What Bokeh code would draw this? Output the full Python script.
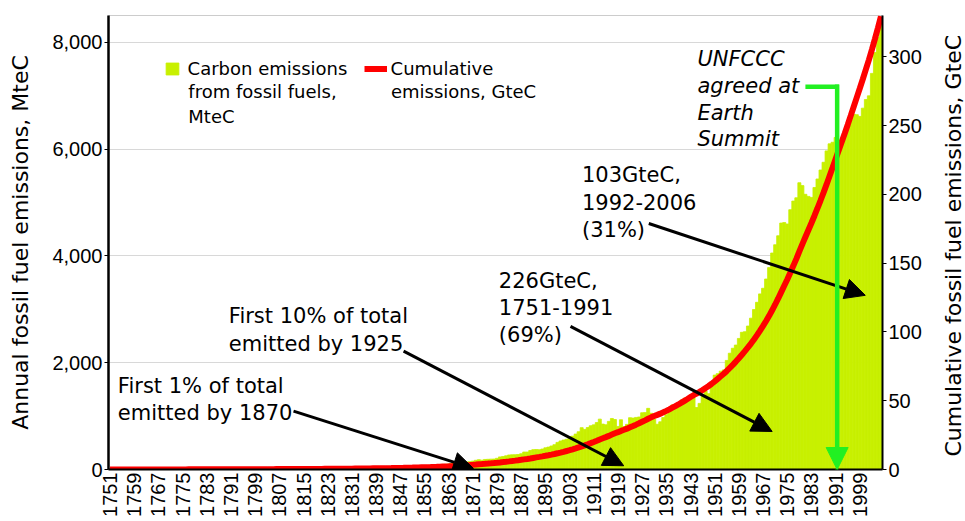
import math
import numpy as np
from bokeh.plotting import figure
from bokeh.models import (Range1d, LinearAxis, FixedTicker, NumeralTickFormatter,
                          Legend, LegendItem, Label, Arrow, NormalHead)
from bokeh.embed import file_html
from bokeh.resources import INLINE

# ---------------- data ----------------
years = list(range(1751, 2007))
annual_mtc = [
    3, 3, 3, 3, 3, 3, 3, 3, 3, 3,                      # 1751-1760
    3, 3, 3, 3, 3, 3, 4, 4, 4, 4,                      # 1761-1770
    4, 4, 4, 4, 4, 4, 4, 4, 4, 5,                      # 1771-1780
    5, 5, 5, 5, 5, 5, 5, 5, 5, 5,                      # 1781-1790
    6, 6, 6, 6, 6, 6, 7, 7, 7, 8,                      # 1791-1800
    8, 10, 9, 9, 9, 10, 10, 10, 10, 10,                # 1801-1810
    11, 11, 11, 11, 12, 13, 14, 14, 14, 14,            # 1811-1820
    14, 15, 16, 16, 17, 17, 18, 18, 18, 24,            # 1821-1830
    23, 23, 24, 24, 25, 29, 29, 30, 31, 33,            # 1831-1840
    34, 36, 37, 39, 43, 43, 46, 47, 50, 54,            # 1841-1850
    54, 57, 59, 69, 71, 76, 77, 78, 83, 91,            # 1851-1860
    95, 97, 104, 112, 119, 122, 130, 135, 142, 147,    # 1861-1870
    156, 173, 184, 174, 188, 191, 194, 196, 210, 236,  # 1871-1880
    243, 256, 272, 275, 277, 281, 295, 327, 327, 356,  # 1881-1890
    372, 374, 370, 383, 406, 419, 440, 465, 507, 534,  # 1891-1900
    552, 566, 617, 624, 663, 707, 784, 750, 785, 819,  # 1901-1910
    836, 879, 943, 850, 838, 901, 955, 936, 806, 932,  # 1911-1920
    803, 845, 970, 963, 975, 983, 1062, 1065, 1145, 1053,      # 1921-1930
    940, 847, 893, 973, 1027, 1130, 1209, 1142, 1192, 1299,    # 1931-1940
    1334, 1342, 1391, 1383, 1160, 1238, 1392, 1469, 1419, 1630,  # 1941-1950
    1767, 1795, 1841, 1865, 2042, 2177, 2270, 2330, 2454, 2569,  # 1951-1960
    2580, 2686, 2833, 2995, 3130, 3288, 3393, 3566, 3780, 4053,  # 1961-1970
    4208, 4376, 4614, 4623, 4596, 4864, 5026, 5087, 5369, 5315,  # 1971-1980
    5152, 5113, 5094, 5280, 5439, 5607, 5752, 5965, 6097, 6127,  # 1981-1990
    6217, 6164, 6162, 6266, 6398, 6542, 6651, 6643, 6610, 6765,  # 1991-2000
    6927, 6996, 7416, 7807, 8093, 8370,                          # 2001-2006
]
cumulative_gtc = list(np.cumsum(annual_mtc) / 1000.0)

x_ticks = list(range(1751, 2000, 8))
left_ticks = [0, 2000, 4000, 6000, 8000]
right_ticks = [0, 50, 100, 150, 200, 250, 300]

bar_label_lines = ["Carbon emissions", "from fossil fuels,\nMteC"]
line_label_lines = ["Cumulative", "emissions, GteC"]
y_title_left = "Annual fossil fuel emissions, MteC"
y_title_right = "Cumulative fossil fuel emissions, GteC"

# annotations: (text, x-year, y-MtC top)
notes = [
    ("First 1% of total\nemitted by 1870", 1753.6, 1795),
    ("First 10% of total\nemitted by 1925", 1790.3, 3094),
    ("226GteC,\n1751-1991\n(69%)", 1879.6, 3763),
    ("103GteC,\n1992-2006\n(31%)", 1907.1, 5731),
]
# arrows: (x_start, y_start, x_end, y_end) in year / MtC
arrows = [
    (1811.7, 1093, 1871.2, 20),
    (1848.1, 2217, 1920.9, 70),
    (1903.3, 2680, 1970.0, 712),
    (1929.2, 4605, 2000.8, 3261),
]
summit_text = "UNFCCC\nagreed at\nEarth\nSummit"
summit_text_pos = (1945.3, 7905)
summit_year = 1991.5
summit_hook = (1981.0, 7166)

TICK_FONT = "Liberation Sans"
FONT = "DejaVu Sans"
BAR_COLOR = "#c8f000"
LINE_COLOR = "#ff0000"
GREEN = "#22f022"

# ---------------- figure ----------------
p = figure(width=965, height=521, output_backend="svg", toolbar_location=None,
           x_range=Range1d(1750.5, 2006.5), y_range=Range1d(0, 8500),
           min_border_left=108, min_border_right=83, min_border_top=15,
           min_border_bottom=52)
p.extra_y_ranges = {"cum": Range1d(0, 330)}
p.background_fill_color = "white"
p.border_fill_color = "white"
p.outline_line_color = "#cccccc"

r_bar = p.vbar(x=years, top=annual_mtc, width=1.0, fill_color=BAR_COLOR,
               line_color=BAR_COLOR, line_width=0.8)
r_line = p.line(x=years, y=cumulative_gtc, y_range_name="cum",
                line_color=LINE_COLOR, line_width=6)

# grids
p.xgrid.visible = False
p.ygrid.grid_line_color = "#d8d8d8"
p.ygrid.grid_line_width = 1
p.ygrid.ticker = FixedTicker(ticks=left_ticks)

# x axis
xa = p.xaxis[0]
xa.ticker = FixedTicker(ticks=x_ticks)
xa.major_label_orientation = math.pi / 2
xa.major_label_text_font = TICK_FONT
xa.major_label_text_font_size = "20px"
xa.major_label_text_color = "black"
xa.major_tick_out = 0
xa.major_tick_in = 0
xa.minor_tick_line_color = None
xa.major_label_standoff = 3
xa.axis_line_color = "black"
xa.axis_line_width = 2

# left axis
ya = p.yaxis[0]
ya.ticker = FixedTicker(ticks=left_ticks)
ya.formatter = NumeralTickFormatter(format="0,0")
ya.major_label_text_font = TICK_FONT
ya.major_label_text_font_size = "20px"
ya.major_label_text_color = "black"
ya.major_tick_out = 4
ya.major_tick_in = 0
ya.minor_tick_line_color = None
ya.major_label_standoff = 2
ya.axis_line_color = "black"
ya.axis_line_width = 2.5
ya.axis_label = y_title_left
ya.axis_label_text_font = FONT
ya.axis_label_text_font_size = "22px"
ya.axis_label_text_font_style = "normal"
ya.axis_label_text_color = "black"
ya.axis_label_standoff = 16

# right axis
ra = LinearAxis(y_range_name="cum", ticker=FixedTicker(ticks=right_ticks))
ra.major_label_text_font = TICK_FONT
ra.major_label_text_font_size = "20px"
ra.major_label_text_color = "black"
ra.major_tick_out = 4
ra.major_tick_in = 0
ra.minor_tick_line_color = None
ra.major_label_standoff = 2
ra.axis_line_color = "black"
ra.axis_line_width = 2
p.add_layout(ra, "right")

# right axis title (reads bottom-to-top), in the right side panel
p.add_layout(Label(x=2030.0, y=4190, text=y_title_right, angle=math.pi / 2,
                   text_font=FONT, text_font_size="22px", text_color="black",
                   text_align="center", text_baseline="middle"), "right")

# legends (glyph aligned with the first line of each label)
def make_legend(item, loc, gw, gh, standoff):
    return Legend(items=[item], location=loc, orientation="vertical",
                  glyph_width=gw, glyph_height=gh, label_standoff=standoff,
                  label_height=22,
                  label_text_font=FONT, label_text_font_size="18px",
                  label_text_color="black",
                  padding=0, margin=0, spacing=0,
                  background_fill_alpha=0, border_line_color=None)

p.add_layout(make_legend(LegendItem(label=bar_label_lines[0], renderers=[r_bar]),
                         (55.6, 389.5), 16, 15, 8))
p.add_layout(make_legend(LegendItem(label=line_label_lines[0], renderers=[r_line]),
                         (255.6, 389.5), 23, 15, 4))
p.add_layout(Label(x=1776.9, y=7276, text=bar_label_lines[1], text_font=FONT,
                   text_font_size="18px", text_color="black", text_baseline="top",
                   text_align="left", text_line_height=1.2))
p.add_layout(Label(x=1843.9, y=7276, text=line_label_lines[1], text_font=FONT,
                   text_font_size="18px", text_color="black", text_baseline="top",
                   text_align="left", text_line_height=1.2))

# annotation texts
for txt, xx, yy in notes:
    p.add_layout(Label(x=xx, y=yy, text=txt, text_font=FONT, text_font_size="21px",
                       text_color="black", text_baseline="top", text_align="left",
                       text_line_height=1.14))
p.add_layout(Label(x=summit_text_pos[0], y=summit_text_pos[1], text=summit_text,
                   text_font=FONT, text_font_size="21px", text_font_style="italic",
                   text_color="black", text_baseline="top", text_align="left",
                   text_line_height=1.11))

# arrows
for x0, y0, x1, y1 in arrows:
    p.add_layout(Arrow(x_start=x0, y_start=y0, x_end=x1, y_end=y1,
                       line_color="black", line_width=3,
                       end=NormalHead(size=20, fill_color="black", line_color="black",
                                      line_width=1)))

# green summit pointer
p.segment(x0=[summit_hook[0]], y0=[summit_hook[1]], x1=[summit_year + 0.6],
          y1=[summit_hook[1]], line_color=GREEN, line_width=4.5)
p.add_layout(Arrow(x_start=summit_year, y_start=summit_hook[1] + 40, x_end=summit_year, y_end=0,
                   line_color=GREEN, line_width=4.5,
                   end=NormalHead(size=22, fill_color=GREEN, line_color=GREEN, line_width=1)))

open("out.html", "w").write(file_html(p, INLINE))
